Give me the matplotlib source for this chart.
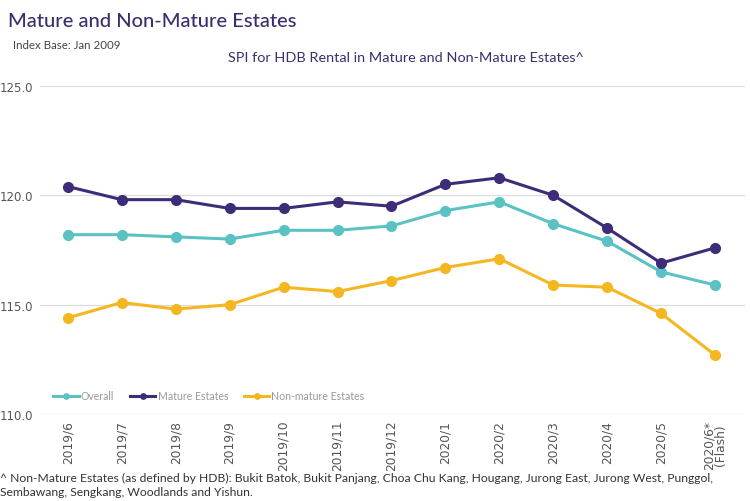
"""SPI for HDB rental, mature vs non-mature estates."""

import matplotlib

matplotlib.use("Agg", force=True)
import matplotlib.pyplot as plt

months = [
    "2019/6", "2019/7", "2019/8", "2019/9", "2019/10", "2019/11", "2019/12",
    "2020/1", "2020/2", "2020/3", "2020/4", "2020/5", "2020/6*\n(Flash)",
]
overall = [118.2, 118.2, 118.1, 118.0, 118.4, 118.4, 118.6, 119.3, 119.7, 118.7, 117.9, 116.5, 115.9]
mature = [120.4, 119.8, 119.8, 119.4, 119.4, 119.7, 119.5, 120.5, 120.8, 120.0, 118.5, 116.9, 117.6]
non_mature = [114.4, 115.1, 114.8, 115.0, 115.8, 115.6, 116.1, 116.7, 117.1, 115.9, 115.8, 114.6, 112.7]
y_ticks = [110.0, 115.0, 120.0, 125.0]

TEAL = "#5bc2c3"
PURPLE = "#3e2c78"
YELLOW = "#f4b71f"
TITLE = "#3d2d6e"

plt.rcParams["font.family"] = ["Lato", "DejaVu Sans"]

fig = plt.figure(figsize=(7.5, 5.02), dpi=100)
ax = fig.add_axes([0.053, 0.173, 0.94, 0.654])

x = list(range(len(months)))
ax.plot(x, overall, color=TEAL, lw=2.2, marker="o", ms=7, label="Overall")
ax.plot(x, mature, color=PURPLE, lw=2.2, marker="o", ms=7, label="Mature Estates")
ax.plot(x, non_mature, color=YELLOW, lw=2.2, marker="o", ms=7, label="Non-mature Estates")

ax.set_ylim(110, 125)
ax.set_xlim(-0.52, 12.55)
ax.set_yticks(y_ticks)
ax.set_yticklabels([f"{v:.1f}" for v in y_ticks], fontsize=8.5, color="#555555",
                   family="DejaVu Sans")
ax.set_xticks(x)
ax.set_xticklabels(months, rotation=90, fontsize=8.8, color="#555555",
                   family="DejaVu Sans", linespacing=0.85)
ax.tick_params(length=0, pad=4)
ax.tick_params(axis="y", pad=5)
ax.grid(axis="y", color="#dddddd", lw=0.9)
ax.set_axisbelow(True)
for side in ax.spines.values():
    side.set_visible(False)

leg = ax.legend(loc="lower left", bbox_to_anchor=(0.006, 0.01), ncol=3, frameon=False,
                fontsize=7.6, markerscale=0.55, handlelength=2.4, columnspacing=1.5,
                handletextpad=0.2)
for text in leg.get_texts():
    text.set_color("#999999")

fig.text(0.011, 0.975, "Mature and Non-Mature Estates", fontsize=14.5, color=TITLE,
         va="top", ha="left", weight="medium")
fig.text(0.017, 0.91, "Index Base: Jan 2009", fontsize=8.3, color="#444444",
         va="center", ha="left")
fig.text(0.541, 0.885, "SPI for HDB Rental in Mature and Non-Mature Estates^", fontsize=10.4,
         color=TITLE, va="center", ha="center")
fig.text(0.0, 0.033,
         "^ Non-Mature Estates (as defined by HDB): Bukit Batok, Bukit Panjang, Choa Chu Kang, "
         "Hougang, Jurong East, Jurong West, Punggol,\nSembawang, Sengkang, Woodlands and Yishun.",
         fontsize=8.7, color="#333333", va="center", ha="left", linespacing=1.3)

fig.savefig("out.png", dpi=100)
